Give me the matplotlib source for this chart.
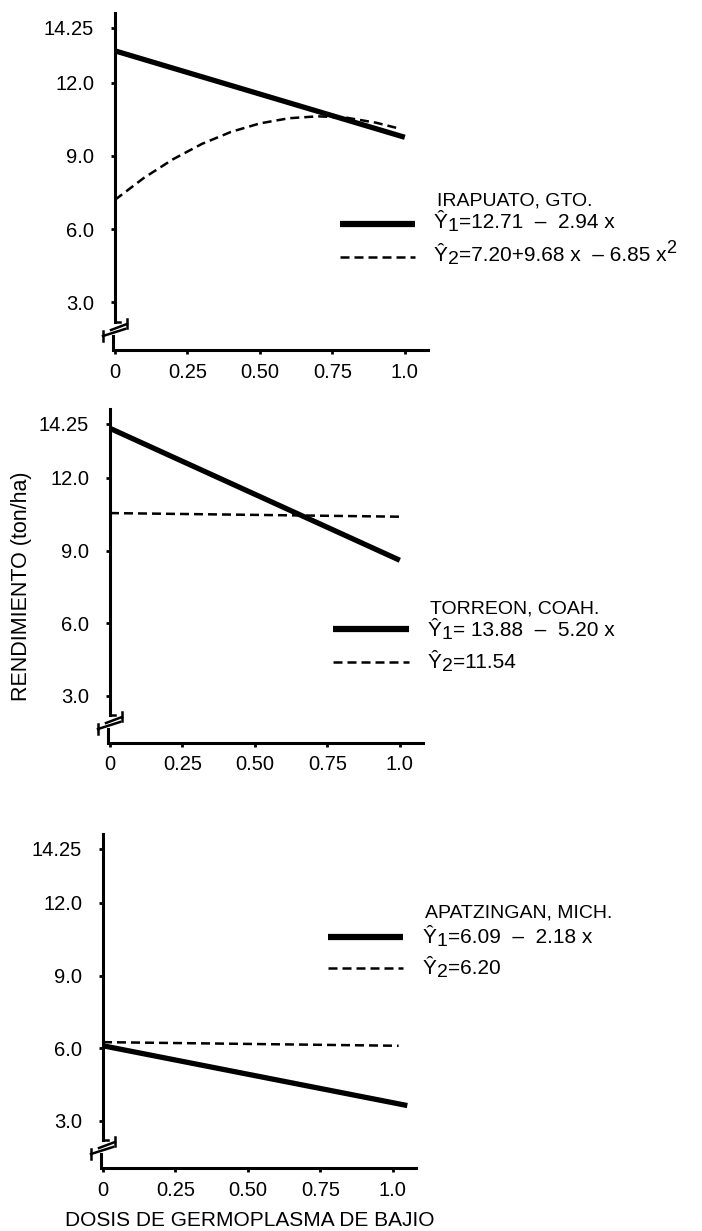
import matplotlib
matplotlib.use('Agg')
import matplotlib.pyplot as plt
from matplotlib.lines import Line2D

plt.rcParams['font.family'] = ['Liberation Sans', 'DejaVu Sans']

# values
x_ticks = [0, 0.25, 0.50, 0.75, 1.0]
x_tick_labels = ['0', '0.25', '0.50', '0.75', '1.0']
y_ticks = [3.0, 6.0, 9.0, 12.0, 14.25]
y_tick_labels = ['3.0', '6.0', '9.0', '12.0', '14.25']

# Irapuato
irap_x1 = [0, 1.0]
irap_y1 = [13.3, 9.76]
irap_x2 = [0, 0.1, 0.2, 0.3, 0.4, 0.5, 0.6, 0.7, 0.8, 0.9, 0.97]
irap_y2 = [7.2, 8.1, 8.86, 9.49, 9.98, 10.33, 10.54, 10.62, 10.56, 10.36, 10.15]

# Torreon
torr_x1 = [0, 1.0]
torr_y1 = [14.05, 8.6]
torr_x2 = [0, 1.0]
torr_y2 = [10.55, 10.4]

# Apatzingan
apat_x1 = [0, 1.05]
apat_y1 = [6.1, 3.63]
apat_x2 = [0, 1.02]
apat_y2 = [6.25, 6.1]

places = ['IRAPUATO, GTO.', 'TORREON, COAH.', 'APATZINGAN, MICH.']
# equation pieces: (text, raise in px, size)
eq1 = [[('Ŷ', 0, 15), ('1', -3, 14), ('=12.71  –  2.94 x', 0, 15)],
       [('Ŷ', 0, 15), ('1', -3, 14), ('= 13.88  –  5.20 x', 0, 15)],
       [('Ŷ', 0, 15), ('1', -3, 14), ('=6.09  –  2.18 x', 0, 15)]]
eq2 = [[('Ŷ', 0, 15), ('2', -3, 14), ('=7.20+9.68 x  – 6.85 x', 0, 15), ('2', 8, 13)],
       [('Ŷ', 0, 15), ('2', -3, 14), ('=11.54', 0, 15)],
       [('Ŷ', 0, 15), ('2', -3, 14), ('=6.20', 0, 15)]]

W, H = 702, 1231
fig = plt.figure(figsize=(W / 100, H / 100), dpi=100)
renderer = fig.canvas.get_renderer()


def flow_text(x_px, base_px, pieces):
    x = x_px
    for s, dy, size in pieces:
        t = fig.text(x / W, 1 - (base_px - dy) / H, s, fontsize=size,
                     ha='left', va='baseline')
        x += t.get_window_extent(renderer).width


# panel boxes in pixels: left, bottom, top
boxes = [(115, 350, 13), (110, 743, 409), (103, 1168, 834)]
series = [(irap_x1, irap_y1, irap_x2, irap_y2),
          (torr_x1, torr_y1, torr_x2, torr_y2),
          (apat_x1, apat_y1, apat_x2, apat_y2)]
# legend: title x, text x, line x0, x1, line y1, y2, baselines (title, row1, row2)
legpos = [(437, 434, 340, 415, 224, 257, (205, 228, 261)),
          (430, 428, 333, 409, 629, 662, (613, 636, 668)),
          (425, 423, 328, 403, 937, 968, (918, 943, 974))]

dash = (0, (3.6, 2.0))

for i in range(3):
    left, bot, top = boxes[i]
    wpx = 313
    hpx = bot - top
    ax = fig.add_axes([left / W, 1 - bot / H, wpx / W, hpx / H])
    xa, ya, xb, yb = series[i]
    ax.plot(xa, ya, color='black', lw=3.8, solid_capstyle='butt', clip_on=False)
    ax.plot(xb, yb, color='black', lw=1.8, linestyle=dash, clip_on=False)
    ax.set_xlim(0, 1.08)
    ax.set_ylim(1.05, 14.85)
    ax.set_xticks(x_ticks)
    ax.set_xticklabels(x_tick_labels)
    ax.set_yticks(y_ticks)
    ax.set_yticklabels(y_tick_labels)
    ax.tick_params(axis='both', labelsize=14.5, direction='out', length=3, width=2)
    ax.tick_params(axis='y', pad=12)
    ax.tick_params(axis='x', pad=6)
    for s in ['top', 'right', 'left']:
        ax.spines[s].set_visible(False)
    ax.spines['bottom'].set_linewidth(2.2)

    # left axis drawn by hand with the break marks
    fx = 1.0 / wpx
    fy = 1.0 / hpx
    kw = dict(transform=ax.transAxes, color='black', clip_on=False)
    ax.plot([0, 0], [28 * fy, 1.0], lw=2.2, **kw)
    ax.plot([0, 5 * fx], [28 * fy, 28 * fy], lw=1.8, **kw)
    ax.plot([-2 * fx, -2 * fx], [0, 14 * fy], lw=2.2, **kw)
    ax.plot([-4 * fx, 12 * fx], [20 * fy, 26 * fy], lw=1.8, **kw)
    ax.plot([-12 * fx, 10 * fx], [14 * fy, 21 * fy], lw=1.8, **kw)
    ax.plot([-12 * fx, -12 * fx], [9 * fy, 19 * fy], lw=1.8, **kw)
    ax.plot([12 * fx, 12 * fx], [22 * fy, 31 * fy], lw=1.8, **kw)

    # legend block
    tx, ex, lx0, lx1, r1, r2, (b0, b1, b2) = legpos[i]
    fig.text(tx / W, 1 - b0 / H, places[i], fontsize=14, ha='left', va='baseline')
    fig.add_artist(Line2D([lx0 / W, lx1 / W], [1 - r1 / H, 1 - r1 / H],
                          transform=fig.transFigure, color='black', lw=4.5,
                          solid_capstyle='butt'))
    fig.add_artist(Line2D([lx0 / W, lx1 / W], [1 - r2 / H, 1 - r2 / H],
                          transform=fig.transFigure, color='black', lw=1.8,
                          linestyle=dash))
    flow_text(ex, b1, eq1[i])
    flow_text(ex, b2, eq2[i])

fig.text(22 / W, 1 - 586 / H, 'RENDIMIENTO (ton/ha)', rotation=90,
         fontsize=15.5, ha='center', va='center')
fig.text(250 / W, 1 - 1220 / H, 'DOSIS DE GERMOPLASMA DE BAJIO',
         fontsize=15, ha='center', va='center')

fig.savefig('out.png', dpi=100, facecolor='white')
